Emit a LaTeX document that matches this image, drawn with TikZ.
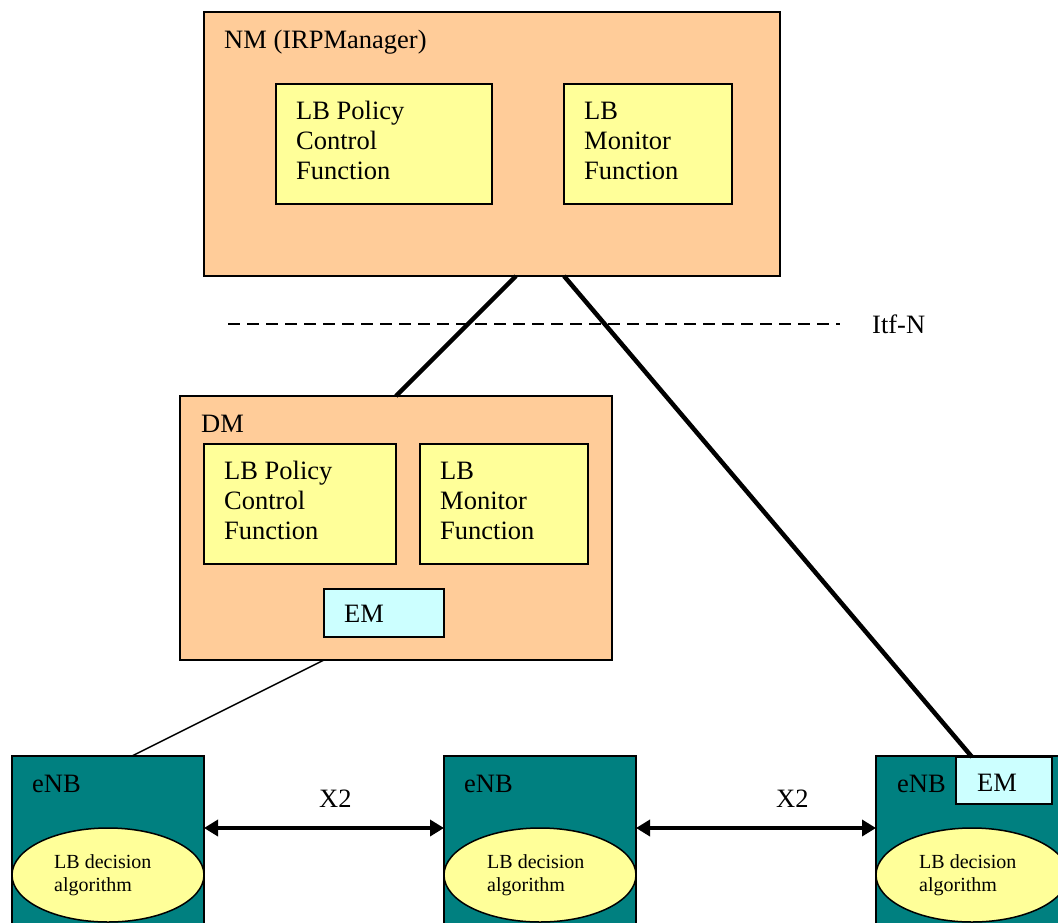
\documentclass[tikz,border=0pt]{standalone}
\usepackage{fontspec}
\setmainfont{Liberation Serif}
\usetikzlibrary{arrows.meta,shapes.geometric}
\definecolor{orng}{HTML}{FFCC99}
\definecolor{yel}{HTML}{FFFF99}
\definecolor{cyn}{HTML}{CCFFFF}
\definecolor{teal2}{HTML}{008080}
\begin{document}
\begin{tikzpicture}[x=1pt,y=-1pt,
  box/.style={draw=black, line width=1.5pt, inner sep=0pt, outer sep=0pt, anchor=north west},
  mgr/.style={box, fill=orng},
  fn/.style={box, fill=yel},
  em/.style={box, fill=cyn},
  enb/.style={box, fill=teal2, minimum width=192pt, minimum height=180pt},
  alg/.style={ellipse, draw=black, line width=1.5pt, fill=yel, inner sep=0pt, outer sep=0pt, minimum width=192pt, minimum height=94pt},
  lbl/.style={anchor=base west, inner sep=0pt, font=\fontsize{26.5}{30}\selectfont},
  mtxt/.style={anchor=north west, inner sep=0pt, align=left, font=\fontsize{26.5}{30}\selectfont},
  stxt/.style={anchor=north west, inner sep=0pt, align=left, font=\fontsize{20}{23}\selectfont},
  thickline/.style={line width=4.5pt},
  x2/.style={line width=4pt, {Triangle[length=14pt,width=16pt]}-{Triangle[length=14pt,width=16pt]}}]
\useasboundingbox[fill=white] (0,0) rectangle (1058,922);

% NM
\node[mgr, minimum width=576pt, minimum height=264pt] (nm) at (204,12) {};
\node[lbl] (nmt) at (224,48) {NM (IRPManager)};
\node[fn, minimum width=216pt, minimum height=120pt] (nmp) at (276,84) {};
\node[mtxt] (nmpt) at (296,98) {\strut LB Policy\\Control\\Function};
\node[fn, minimum width=168pt, minimum height=120pt] (nmm) at (564,84) {};
\node[mtxt] (nmmt) at (584,98) {\strut LB\\Monitor\\Function};

% Itf-N
\coordinate (d1) at (228,324);
\coordinate (d2) at (840,324);
\draw[line width=1.5pt, dash pattern=on 12pt off 7pt] (d1) -- (d2);
\node[lbl] (itf) at (872,333) {Itf-N};

% DM
\node[mgr, minimum width=432pt, minimum height=264pt] (dm) at (180,396) {};
\node[lbl] (dmt) at (201,432) {DM};
\node[fn, minimum width=192pt, minimum height=120pt] (dmp) at (204,444) {};
\node[mtxt] (dmpt) at (224,458) {\strut LB Policy\\Control\\Function};
\node[fn, minimum width=168pt, minimum height=120pt] (dmm) at (420,444) {};
\node[mtxt] (dmmt) at (440,458) {\strut LB\\Monitor\\Function};
\node[em, minimum width=120pt, minimum height=48pt] (dmem) at (324,589) {};
\node[lbl] (dmemt) at (344,622) {EM};

% eNBs
\node[enb] (enb1) at (12,756) {};
\node[enb] (enb2) at (444,756) {};
\node[enb] (enb3) at (876,756) {};
\node[lbl] (e1t) at (32,792) {eNB};
\node[lbl] (e2t) at (464,792) {eNB};
\node[lbl] (e3t) at (897,792) {eNB};
\node[em, minimum width=96pt, minimum height=47pt] (em3) at (956,757) {};
\node[lbl] (em3t) at (977,791) {EM};

\node[alg] (a1) at (108,875) {};
\node[alg] (a2) at (540,875) {};
\node[alg] (a3) at (972,875) {};
\node[stxt] (a1t) at (54,852) {\strut LB decision\\algorithm};
\node[stxt] (a2t) at (487,852) {\strut LB decision\\algorithm};
\node[stxt] (a3t) at (919,852) {\strut LB decision\\algorithm};

% connectors
\draw[thickline] ([xshift=24pt]nm.south) -- (dm.north);
\draw[thickline] ([xshift=72pt]nm.south) -- ([xshift=-32pt]em3.north);
\draw[line width=1.5pt] ([xshift=-72pt]dm.south) -- ([xshift=24pt]enb1.north);
\draw[x2] (enb1.east |- a1.north) -- (enb2.west |- a1.north);
\draw[x2] (enb2.east |- a2.north) -- (enb3.west |- a2.north);
\node[lbl] (x2a) at (319,807) {X2};
\node[lbl] (x2b) at (776,807) {X2};
\end{tikzpicture}
\end{document}
